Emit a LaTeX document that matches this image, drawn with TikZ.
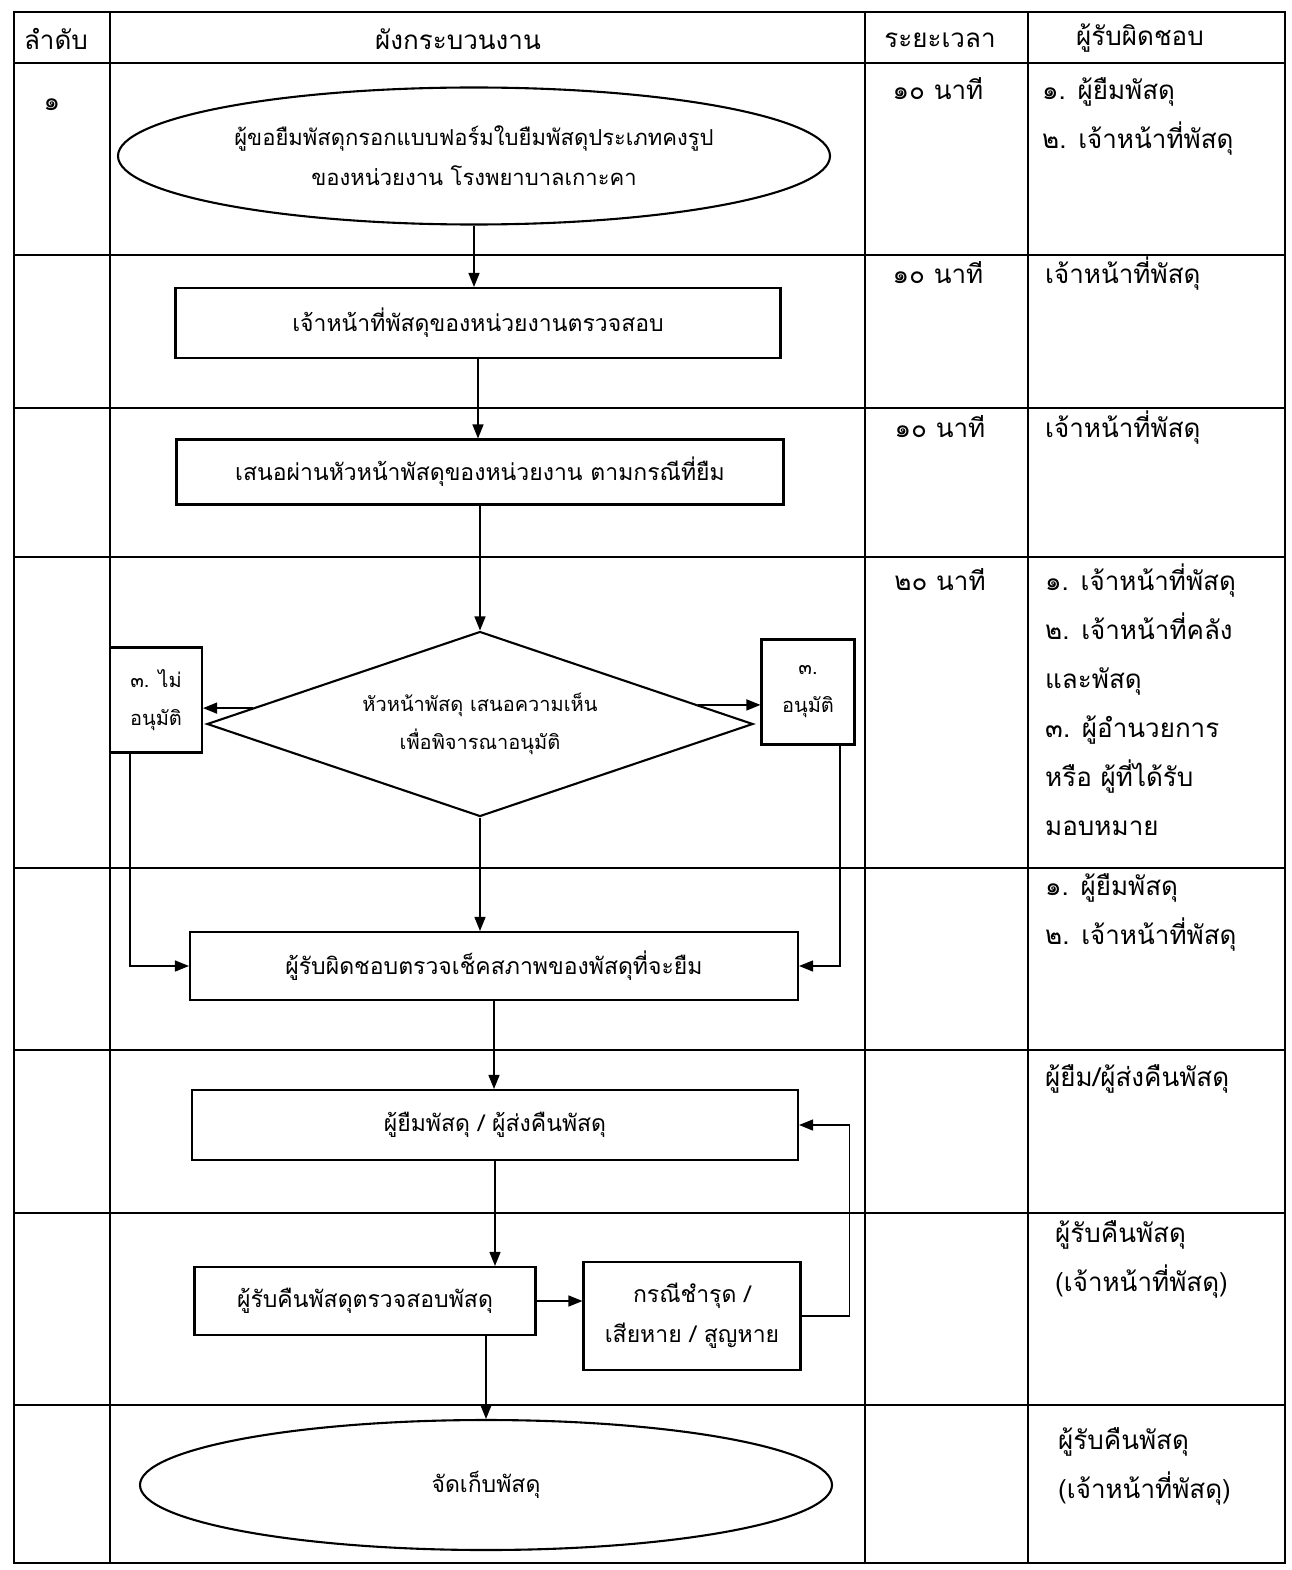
\documentclass[tikz,border=0pt]{standalone}
\usepackage{fontspec}
\setmainfont[Script=Thai]{Loma}
\usetikzlibrary{shapes.geometric,arrows.meta,positioning,calc}
\newcommand\flowfont{\fontsize{23}{40}\selectfont}
\newcommand\termfont{\fontsize{22}{40}\selectfont}
\newcommand\smallfont{\fontsize{20}{38}\selectfont}
\newcommand\cellfont{\fontsize{26}{49}\selectfont}

\tikzset{
  flowbox/.style={draw, line width=2.1pt, rectangle, align=center, inner sep=0pt, font=\flowfont},
  terminal/.style={draw, line width=2.1pt, ellipse, align=center, inner sep=0pt, font=\termfont},
  decision/.style={draw, line width=2.1pt, diamond, aspect=2.95, align=center, inner sep=0pt, font=\smallfont},
  flowline/.style={line width=1.4pt, -{Triangle[length=14pt,width=11pt]}},
  gridline/.style={line width=1.4pt},
  celltext/.style={anchor=north west, align=left, inner sep=0pt, font=\cellfont},
  timetext/.style={anchor=base, inner sep=0pt, font=\cellfont},
}

\begin{document}
\begin{tikzpicture}[x=1pt,y=-1pt]
    \useasboundingbox (0,0) rectangle (1291,1570);

    % Table
    \draw[gridline] (14,12) rectangle (1285,1563);
    \foreach \x in {110,865,1028} \draw[gridline] (\x,12) -- (\x,1563);
    \foreach \y in {63,255,408,557,868,1050,1213,1405} \draw[gridline] (14,\y) -- (1285,\y);

    % Header
    \node[timetext] (hnum) at (56,50) {ลำดับ};
    \node[timetext] (hflow) at (458,50) {ผังกระบวนงาน};
    \node[timetext] (htime) at (940,48) {ระยะเวลา};
    \node[timetext] (hresp) at (1140,46) {ผู้รับผิดชอบ};
    \node[timetext] (num1) at (52,111) {๑};

    % Times
    \node[timetext] (t1) at (938,100) {๑๐ นาที};
    \node[timetext] (t2) at (938,283) {๑๐ นาที};
    \node[timetext] (t3) at (940,437) {๑๐ นาที};
    \node[timetext] (t4) at (940,590) {๒๐ นาที};

    % Responsible
    \node[celltext] (r1) at (1042,77) {๑. ผู้ยืมพัสดุ\\๒. เจ้าหน้าที่พัสดุ};
    \node[celltext] (r2) at (1045,257) {เจ้าหน้าที่พัสดุ};
    \node[celltext] (r3) at (1045,411) {เจ้าหน้าที่พัสดุ};
    \node[celltext] (r4) at (1045,564) {๑. เจ้าหน้าที่พัสดุ\\๒. เจ้าหน้าที่คลัง\\และพัสดุ\\๓. ผู้อำนวยการ\\หรือ ผู้ที่ได้รับ\\มอบหมาย};
    \node[celltext] (r5) at (1045,873) {๑. ผู้ยืมพัสดุ\\๒. เจ้าหน้าที่พัสดุ};
    \node[celltext] (r6) at (1045,1064) {ผู้ยืม/ผู้ส่งคืนพัสดุ};
    \node[celltext] (r7) at (1055,1220) {ผู้รับคืนพัสดุ\\(เจ้าหน้าที่พัสดุ)};
    \node[celltext] (r8) at (1058,1427) {ผู้รับคืนพัสดุ\\(เจ้าหน้าที่พัสดุ)};

    % Flow
    \node[terminal, minimum width=712pt, minimum height=137pt] (start) at (474,156) {ผู้ขอยืมพัสดุกรอกแบบฟอร์มใบยืมพัสดุประเภทคงรูป\\ของหน่วยงาน โรงพยาบาลเกาะคา};
    \node[flowbox, minimum width=605pt, minimum height=70pt] (check) at (478,323) {เจ้าหน้าที่พัสดุของหน่วยงานตรวจสอบ};
    \node[flowbox, minimum width=607pt, minimum height=65pt] (propose) at (480,472) {เสนอผ่านหัวหน้าพัสดุของหน่วยงาน ตามกรณีที่ยืม};
    \node[decision, minimum width=546pt, minimum height=185pt] (decide) at (480,724) {หัวหน้าพัสดุ เสนอความเห็น\\เพื่อพิจารณาอนุมัติ};
    \node[flowbox, font=\smallfont, minimum width=92pt, minimum height=105pt] (reject) at (156,700) {๓. ไม่\\อนุมัติ};
    \node[flowbox, font=\smallfont, minimum width=93pt, minimum height=105pt] (approve) at (808,692) {๓.\\อนุมัติ};
    \node[flowbox, minimum width=608pt, minimum height=68pt] (inspect) at (494,966) {ผู้รับผิดชอบตรวจเช็คสภาพของพัสดุที่จะยืม};
    \node[flowbox, minimum width=606pt, minimum height=70pt] (borrow) at (495,1125) {ผู้ยืมพัสดุ / ผู้ส่งคืนพัสดุ};
    \node[flowbox, minimum width=341pt, minimum height=68pt] (receive) at (365,1301) {ผู้รับคืนพัสดุตรวจสอบพัสดุ};
    \node[flowbox, minimum width=217pt, minimum height=108pt] (damage) at (692,1316) {กรณีชำรุด /\\เสียหาย / สูญหาย};
    \node[terminal, font=\flowfont, minimum width=692pt, minimum height=130pt] (store) at (486,1485) {จัดเก็บพัสดุ};

    % Connectors
    \draw[flowline] (start.south) -- (start.south |- check.north);
    \draw[flowline] (check.south) -- (check.south |- propose.north);
    \draw[flowline] (propose.south) -- (decide.north);
    \draw[flowline] (decide.176) -- (decide.176 -| reject.east);
    \draw[flowline] (decide.5) -- (decide.5 -| approve.west);
    \draw[flowline] (decide.south) -- (decide.south |- inspect.north);
    \draw[flowline] ([xshift=-26pt]reject.south) |- (inspect.west);
    \draw[flowline] ([xshift=32pt]approve.south) |- (inspect.east);
    \draw[flowline] (inspect.south) -- (inspect.south |- borrow.north);
    \draw[flowline] (borrow.south) -- (borrow.south |- receive.north);
    \draw[flowline] (receive.east) -- (receive.east -| damage.west);
    \draw[flowline] (damage.east) -- ++(48,0) |- (borrow.east);
    \draw[flowline] (store.north |- receive.south) -- (store.north);

\end{tikzpicture}
\end{document}
